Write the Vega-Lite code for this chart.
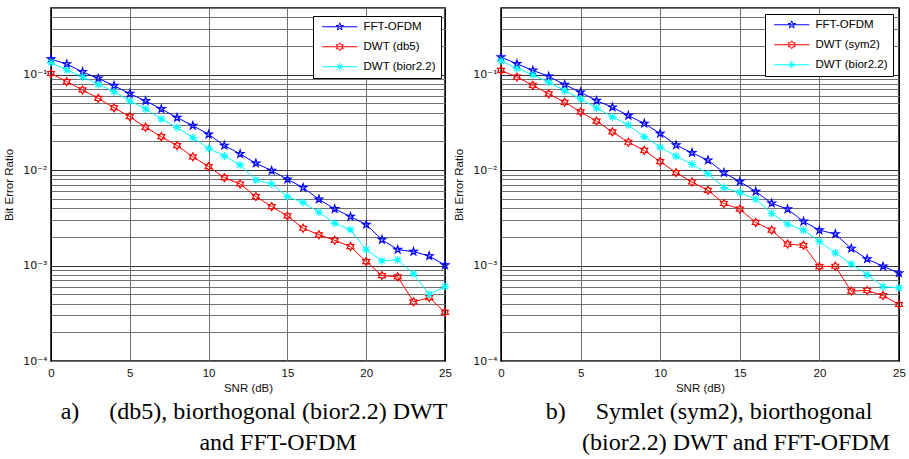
{
  "$schema": "https://vega.github.io/schema/vega-lite/v6.json",
  "background": "white",
  "padding": {"left": 3, "top": 1, "right": 2, "bottom": 0},
  "spacing": 0,
  "datasets": {
    "a": [
      {"series":"FFT-OFDM","snr":0,"ber":0.146},{"series":"FFT-OFDM","snr":1,"ber":0.129},{"series":"FFT-OFDM","snr":2,"ber":0.107},{"series":"FFT-OFDM","snr":3,"ber":0.0915},{"series":"FFT-OFDM","snr":4,"ber":0.0767},{"series":"FFT-OFDM","snr":5,"ber":0.0633},{"series":"FFT-OFDM","snr":6,"ber":0.0531},{"series":"FFT-OFDM","snr":7,"ber":0.0438},{"series":"FFT-OFDM","snr":8,"ber":0.0355},{"series":"FFT-OFDM","snr":9,"ber":0.0293},{"series":"FFT-OFDM","snr":10,"ber":0.0237},{"series":"FFT-OFDM","snr":11,"ber":0.0181},{"series":"FFT-OFDM","snr":12,"ber":0.0148},{"series":"FFT-OFDM","snr":13,"ber":0.0118},{"series":"FFT-OFDM","snr":14,"ber":0.00988},{"series":"FFT-OFDM","snr":15,"ber":0.00801},{"series":"FFT-OFDM","snr":16,"ber":0.00656},{"series":"FFT-OFDM","snr":17,"ber":0.00495},{"series":"FFT-OFDM","snr":18,"ber":0.00392},{"series":"FFT-OFDM","snr":19,"ber":0.00326},{"series":"FFT-OFDM","snr":20,"ber":0.00269},{"series":"FFT-OFDM","snr":21,"ber":0.00187},{"series":"FFT-OFDM","snr":22,"ber":0.00147},{"series":"FFT-OFDM","snr":23,"ber":0.0014},{"series":"FFT-OFDM","snr":24,"ber":0.00126},{"series":"FFT-OFDM","snr":25,"ber":0.00101},
      {"series":"DWT (db5)","snr":0,"ber":0.103},{"series":"DWT (db5)","snr":1,"ber":0.0845},{"series":"DWT (db5)","snr":2,"ber":0.0692},{"series":"DWT (db5)","snr":3,"ber":0.0565},{"series":"DWT (db5)","snr":4,"ber":0.0451},{"series":"DWT (db5)","snr":5,"ber":0.0363},{"series":"DWT (db5)","snr":6,"ber":0.0281},{"series":"DWT (db5)","snr":7,"ber":0.0224},{"series":"DWT (db5)","snr":8,"ber":0.0181},{"series":"DWT (db5)","snr":9,"ber":0.0138},{"series":"DWT (db5)","snr":10,"ber":0.0109},{"series":"DWT (db5)","snr":11,"ber":0.00834},{"series":"DWT (db5)","snr":12,"ber":0.00716},{"series":"DWT (db5)","snr":13,"ber":0.00528},{"series":"DWT (db5)","snr":14,"ber":0.00415},{"series":"DWT (db5)","snr":15,"ber":0.00331},{"series":"DWT (db5)","snr":16,"ber":0.00246},{"series":"DWT (db5)","snr":17,"ber":0.0021},{"series":"DWT (db5)","snr":18,"ber":0.00184},{"series":"DWT (db5)","snr":19,"ber":0.00158},{"series":"DWT (db5)","snr":20,"ber":0.0011},{"series":"DWT (db5)","snr":21,"ber":0.000786},{"series":"DWT (db5)","snr":22,"ber":0.000762},{"series":"DWT (db5)","snr":23,"ber":0.000417},{"series":"DWT (db5)","snr":24,"ber":0.000462},{"series":"DWT (db5)","snr":25,"ber":0.000324},
      {"series":"DWT (bior2.2)","snr":0,"ber":0.134},{"series":"DWT (bior2.2)","snr":1,"ber":0.112},{"series":"DWT (bior2.2)","snr":2,"ber":0.0953},{"series":"DWT (bior2.2)","snr":3,"ber":0.0791},{"series":"DWT (bior2.2)","snr":4,"ber":0.0664},{"series":"DWT (bior2.2)","snr":5,"ber":0.0531},{"series":"DWT (bior2.2)","snr":6,"ber":0.0438},{"series":"DWT (bior2.2)","snr":7,"ber":0.0344},{"series":"DWT (bior2.2)","snr":8,"ber":0.0279},{"series":"DWT (bior2.2)","snr":9,"ber":0.0219},{"series":"DWT (bior2.2)","snr":10,"ber":0.0169},{"series":"DWT (bior2.2)","snr":11,"ber":0.0141},{"series":"DWT (bior2.2)","snr":12,"ber":0.0113},{"series":"DWT (bior2.2)","snr":13,"ber":0.00788},{"series":"DWT (bior2.2)","snr":14,"ber":0.00716},{"series":"DWT (bior2.2)","snr":15,"ber":0.00528},{"series":"DWT (bior2.2)","snr":16,"ber":0.00457},{"series":"DWT (bior2.2)","snr":17,"ber":0.00362},{"series":"DWT (bior2.2)","snr":18,"ber":0.00277},{"series":"DWT (bior2.2)","snr":19,"ber":0.00237},{"series":"DWT (bior2.2)","snr":20,"ber":0.00147},{"series":"DWT (bior2.2)","snr":21,"ber":0.00112},{"series":"DWT (bior2.2)","snr":22,"ber":0.00115},{"series":"DWT (bior2.2)","snr":23,"ber":0.000819},{"series":"DWT (bior2.2)","snr":24,"ber":0.0005},{"series":"DWT (bior2.2)","snr":25,"ber":0.000603}
    ],
    "b": [
      {"series":"FFT-OFDM","snr":0,"ber":0.153},{"series":"FFT-OFDM","snr":1,"ber":0.13},{"series":"FFT-OFDM","snr":2,"ber":0.111},{"series":"FFT-OFDM","snr":3,"ber":0.096},{"series":"FFT-OFDM","snr":4,"ber":0.0787},{"series":"FFT-OFDM","snr":5,"ber":0.0654},{"series":"FFT-OFDM","snr":6,"ber":0.0535},{"series":"FFT-OFDM","snr":7,"ber":0.0456},{"series":"FFT-OFDM","snr":8,"ber":0.0373},{"series":"FFT-OFDM","snr":9,"ber":0.0308},{"series":"FFT-OFDM","snr":10,"ber":0.0242},{"series":"FFT-OFDM","snr":11,"ber":0.0183},{"series":"FFT-OFDM","snr":12,"ber":0.0152},{"series":"FFT-OFDM","snr":13,"ber":0.0127},{"series":"FFT-OFDM","snr":14,"ber":0.00941},{"series":"FFT-OFDM","snr":15,"ber":0.00759},{"series":"FFT-OFDM","snr":16,"ber":0.00597},{"series":"FFT-OFDM","snr":17,"ber":0.0045},{"series":"FFT-OFDM","snr":18,"ber":0.0039},{"series":"FFT-OFDM","snr":19,"ber":0.0029},{"series":"FFT-OFDM","snr":20,"ber":0.00235},{"series":"FFT-OFDM","snr":21,"ber":0.00214},{"series":"FFT-OFDM","snr":22,"ber":0.00151},{"series":"FFT-OFDM","snr":23,"ber":0.00117},{"series":"FFT-OFDM","snr":24,"ber":0.000982},{"series":"FFT-OFDM","snr":25,"ber":0.000836},
      {"series":"DWT (sym2)","snr":0,"ber":0.111},{"series":"DWT (sym2)","snr":1,"ber":0.0946},{"series":"DWT (sym2)","snr":2,"ber":0.0773},{"series":"DWT (sym2)","snr":3,"ber":0.0629},{"series":"DWT (sym2)","snr":4,"ber":0.0514},{"series":"DWT (sym2)","snr":5,"ber":0.0408},{"series":"DWT (sym2)","snr":6,"ber":0.0326},{"series":"DWT (sym2)","snr":7,"ber":0.0252},{"series":"DWT (sym2)","snr":8,"ber":0.0196},{"series":"DWT (sym2)","snr":9,"ber":0.0161},{"series":"DWT (sym2)","snr":10,"ber":0.0123},{"series":"DWT (sym2)","snr":11,"ber":0.00941},{"series":"DWT (sym2)","snr":12,"ber":0.00751},{"series":"DWT (sym2)","snr":13,"ber":0.00615},{"series":"DWT (sym2)","snr":14,"ber":0.00447},{"series":"DWT (sym2)","snr":15,"ber":0.0039},{"series":"DWT (sym2)","snr":16,"ber":0.00283},{"series":"DWT (sym2)","snr":17,"ber":0.00235},{"series":"DWT (sym2)","snr":18,"ber":0.00168},{"series":"DWT (sym2)","snr":19,"ber":0.00163},{"series":"DWT (sym2)","snr":20,"ber":0.000973},{"series":"DWT (sym2)","snr":21,"ber":0.000984},{"series":"DWT (sym2)","snr":22,"ber":0.00054},{"series":"DWT (sym2)","snr":23,"ber":0.000548},{"series":"DWT (sym2)","snr":24,"ber":0.000485},{"series":"DWT (sym2)","snr":25,"ber":0.000391},
      {"series":"DWT (bior2.2)","snr":0,"ber":0.14},{"series":"DWT (bior2.2)","snr":1,"ber":0.116},{"series":"DWT (bior2.2)","snr":2,"ber":0.1},{"series":"DWT (bior2.2)","snr":3,"ber":0.0832},{"series":"DWT (bior2.2)","snr":4,"ber":0.0681},{"series":"DWT (bior2.2)","snr":5,"ber":0.0557},{"series":"DWT (bior2.2)","snr":6,"ber":0.0449},{"series":"DWT (bior2.2)","snr":7,"ber":0.0361},{"series":"DWT (bior2.2)","snr":8,"ber":0.0297},{"series":"DWT (bior2.2)","snr":9,"ber":0.0224},{"series":"DWT (bior2.2)","snr":10,"ber":0.0174},{"series":"DWT (bior2.2)","snr":11,"ber":0.014},{"series":"DWT (bior2.2)","snr":12,"ber":0.0115},{"series":"DWT (bior2.2)","snr":13,"ber":0.00919},{"series":"DWT (bior2.2)","snr":14,"ber":0.00656},{"series":"DWT (bior2.2)","snr":15,"ber":0.00582},{"series":"DWT (bior2.2)","snr":16,"ber":0.00496},{"series":"DWT (bior2.2)","snr":17,"ber":0.00352},{"series":"DWT (bior2.2)","snr":18,"ber":0.00272},{"series":"DWT (bior2.2)","snr":19,"ber":0.00235},{"series":"DWT (bior2.2)","snr":20,"ber":0.00179},{"series":"DWT (bior2.2)","snr":21,"ber":0.00136},{"series":"DWT (bior2.2)","snr":22,"ber":0.00104},{"series":"DWT (bior2.2)","snr":23,"ber":0.000803},{"series":"DWT (bior2.2)","snr":24,"ber":0.000603},{"series":"DWT (bior2.2)","snr":25,"ber":0.000584}
    ]
  },
  "hconcat": [
    {
      "width": 394, "height": 353,
      "data": {"name": "a"},
      "title": {"text": ["a)\u00a0\u00a0\u00a0\u00a0\u00a0(db5), biorthogonal (bior2.2) DWT", "\u200b\u00a0\u00a0\u00a0\u00a0\u00a0\u00a0\u00a0\u00a0and FFT-OFDM"], "dx": 6},
      "encoding": {
        "x": {"field": "snr", "type": "quantitative", "title": "SNR (dB)", "scale": {"domain": [0, 25], "nice": false}, "axis": {"values": [0, 5, 10, 15, 20, 25]}},
        "y": {"field": "ber", "type": "quantitative", "title": "Bit Error Ratio", "scale": {"type": "log", "domain": [0.0001, 0.5], "nice": false}, "axis": {"values": [0.0001, 0.0002, 0.0003, 0.0004, 0.0005, 0.0006, 0.0007, 0.0008, 0.0009, 0.001, 0.002, 0.003, 0.004, 0.005, 0.006, 0.007, 0.008, 0.009, 0.01, 0.02, 0.03, 0.04, 0.05, 0.06, 0.07, 0.08, 0.09, 0.1, 0.2, 0.3, 0.4, 0.5]}},
        "color": {"field": "series", "type": "nominal", "scale": {"domain": ["FFT-OFDM", "DWT (db5)", "DWT (bior2.2)"], "range": ["#0000ff", "#ff0000", "#00ffff"]}, "legend": {"orient": "none", "legendX": 262, "legendY": 8,
          "symbolType": {"expr": "datum.value == 'FFT-OFDM' ? 'M0,-1L0.225,-0.309L0.951,-0.309L0.363,0.118L0.588,0.809L0,0.382L-0.588,0.809L-0.363,0.118L-0.951,-0.309L-0.225,-0.309ZM-4.4,0L4.4,0' : datum.value == 'DWT (bior2.2)' ? 'M0,-1L0,1M-1,0L1,0M-0.707,-0.707L0.707,0.707M-0.707,0.707L0.707,-0.707M-4.4,0L4.4,0' : 'M0,-1L0.289,-0.5L0.866,-0.5L0.577,0L0.866,0.5L0.289,0.5L0,1L-0.289,0.5L-0.866,0.5L-0.577,0L-0.866,-0.5L-0.289,-0.5ZM-4.4,0L4.4,0'"}}}
      },
      "layer": [
        {"mark": {"type": "line", "strokeWidth": 1}},
        {"transform": [{"filter": "datum.series == 'FFT-OFDM'"}], "mark": {"type": "point", "filled": false, "size": 64, "strokeWidth": 1.2, "opacity": 1, "shape": "M0,-1L0.225,-0.309L0.951,-0.309L0.363,0.118L0.588,0.809L0,0.382L-0.588,0.809L-0.363,0.118L-0.951,-0.309L-0.225,-0.309Z"}},
        {"transform": [{"filter": "datum.series == 'DWT (db5)'"}], "mark": {"type": "point", "filled": false, "size": 64, "strokeWidth": 1.2, "opacity": 1, "shape": "M0,-1L0.289,-0.5L0.866,-0.5L0.577,0L0.866,0.5L0.289,0.5L0,1L-0.289,0.5L-0.866,0.5L-0.577,0L-0.866,-0.5L-0.289,-0.5Z"}},
        {"transform": [{"filter": "datum.series == 'DWT (bior2.2)'"}], "mark": {"type": "point", "filled": false, "size": 64, "strokeWidth": 1.2, "opacity": 1, "shape": "M0,-1L0,1M-1,0L1,0M-0.707,-0.707L0.707,0.707M-0.707,0.707L0.707,-0.707"}}
      ]
    },
    {
      "width": 398, "height": 353,
      "data": {"name": "b"},
      "title": {"text": ["b)\u00a0\u00a0\u00a0\u00a0\u00a0Symlet (sym2), biorthogonal", "\u200b\u00a0\u00a0\u00a0\u00a0\u00a0\u00a0\u00a0\u00a0\u00a0(bior2.2) DWT and FFT-OFDM"], "dx": 9},
      "encoding": {
        "x": {"field": "snr", "type": "quantitative", "title": "SNR (dB)", "scale": {"domain": [0, 25], "nice": false}, "axis": {"values": [0, 5, 10, 15, 20, 25]}},
        "y": {"field": "ber", "type": "quantitative", "title": "Bit Error Ratio", "scale": {"type": "log", "domain": [0.0001, 0.5], "nice": false}, "axis": {"values": [0.0001, 0.0002, 0.0003, 0.0004, 0.0005, 0.0006, 0.0007, 0.0008, 0.0009, 0.001, 0.002, 0.003, 0.004, 0.005, 0.006, 0.007, 0.008, 0.009, 0.01, 0.02, 0.03, 0.04, 0.05, 0.06, 0.07, 0.08, 0.09, 0.1, 0.2, 0.3, 0.4, 0.5]}},
        "color": {"field": "series", "type": "nominal", "scale": {"domain": ["FFT-OFDM", "DWT (sym2)", "DWT (bior2.2)"], "range": ["#0000ff", "#ff0000", "#00ffff"]}, "legend": {"orient": "none", "legendX": 264, "legendY": 6,
          "symbolType": {"expr": "datum.value == 'FFT-OFDM' ? 'M0,-1L0.225,-0.309L0.951,-0.309L0.363,0.118L0.588,0.809L0,0.382L-0.588,0.809L-0.363,0.118L-0.951,-0.309L-0.225,-0.309ZM-4.4,0L4.4,0' : datum.value == 'DWT (bior2.2)' ? 'M0,-1L0,1M-1,0L1,0M-0.707,-0.707L0.707,0.707M-0.707,0.707L0.707,-0.707M-4.4,0L4.4,0' : 'M0,-1L0.289,-0.5L0.866,-0.5L0.577,0L0.866,0.5L0.289,0.5L0,1L-0.289,0.5L-0.866,0.5L-0.577,0L-0.866,-0.5L-0.289,-0.5ZM-4.4,0L4.4,0'"}}}
      },
      "layer": [
        {"mark": {"type": "line", "strokeWidth": 1}},
        {"transform": [{"filter": "datum.series == 'FFT-OFDM'"}], "mark": {"type": "point", "filled": false, "size": 64, "strokeWidth": 1.2, "opacity": 1, "shape": "M0,-1L0.225,-0.309L0.951,-0.309L0.363,0.118L0.588,0.809L0,0.382L-0.588,0.809L-0.363,0.118L-0.951,-0.309L-0.225,-0.309Z"}},
        {"transform": [{"filter": "datum.series == 'DWT (sym2)'"}], "mark": {"type": "point", "filled": false, "size": 64, "strokeWidth": 1.2, "opacity": 1, "shape": "M0,-1L0.289,-0.5L0.866,-0.5L0.577,0L0.866,0.5L0.289,0.5L0,1L-0.289,0.5L-0.866,0.5L-0.577,0L-0.866,-0.5L-0.289,-0.5Z"}},
        {"transform": [{"filter": "datum.series == 'DWT (bior2.2)'"}], "mark": {"type": "point", "filled": false, "size": 64, "strokeWidth": 1.2, "opacity": 1, "shape": "M0,-1L0,1M-1,0L1,0M-0.707,-0.707L0.707,0.707M-0.707,0.707L0.707,-0.707"}}
      ]
    }
  ],
  "resolve": {"scale": {"color": "independent"}, "legend": {"color": "independent"}},
  "config": {
    "font": "Liberation Sans",
    "view": {"stroke": "black", "strokeWidth": 1.5},
    "title": {"orient": "bottom", "anchor": "middle", "frame": "group", "font": "Liberation Serif", "fontSize": 24, "fontWeight": "normal", "color": "black", "lineHeight": 31, "offset": 6},
    "axis": {"domain": false, "ticks": false, "labelFlush": false, "labelFont": "Liberation Sans", "labelFontSize": 11.5, "labelColor": "#111", "titleFont": "Liberation Sans", "titleFontSize": 11.5, "titleFontWeight": "normal", "titleColor": "#111", "labelOverlap": false, "gridOpacity": 1},
    "axisX": {"labelPadding": 6, "titlePadding": 4, "gridColor": {"condition": {"test": "datum.value == 0 || datum.value == 25", "value": "black"}, "value": "#707070"}},
    "axisY": {
      "labelExpr": "datum.value == 0.1 ? '10\u207b\u00b9' : datum.value == 0.01 ? '10\u207b\u00b2' : datum.value == 0.001 ? '10\u207b\u00b3' : datum.value == 0.0001 ? '10\u207b\u2074' : ''",
      "labelFont": "DejaVu Sans", "labelFontSize": 11,
      "labelPadding": 4, "titlePadding": 8,
      "gridColor": {"condition": {"test": "datum.value == 0.1 || datum.value == 0.01 || datum.value == 0.001", "value": "#333"}, "value": "#707070"}},
    "legend": {"title": null, "fillColor": "white", "strokeColor": "black", "padding": 5, "labelFont": "Liberation Sans", "labelFontSize": 11.5, "labelColor": "black", "symbolSize": 64, "symbolStrokeWidth": 1, "symbolFillColor": "transparent", "symbolOffset": 16, "labelOffset": 18, "rowPadding": 7}
  }
}
